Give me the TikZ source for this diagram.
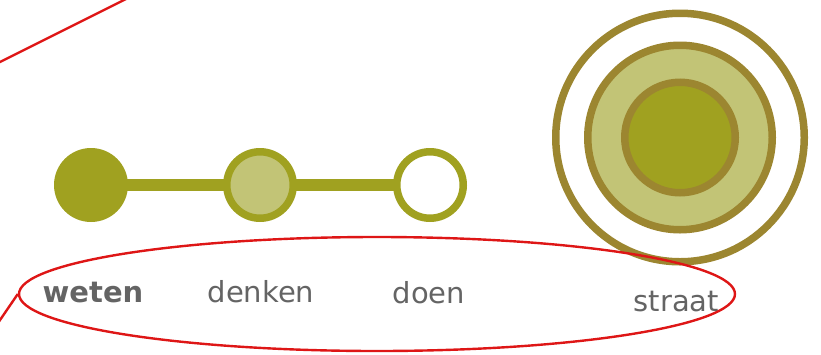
\documentclass[tikz,border=0pt]{standalone}
\usepackage{fontspec}
\setmainfont{DejaVu Sans}
\usetikzlibrary{backgrounds,shapes.geometric}
\definecolor{olive}{RGB}{160,161,32}
\definecolor{lightolive}{RGB}{194,196,118}
\definecolor{ringbrown}{RGB}{156,134,48}
\definecolor{txtgray}{RGB}{100,100,100}
\definecolor{redline}{RGB}{222,22,22}
\begin{document}
\begin{tikzpicture}[x=1pt,y=-1pt,
  dot/.style={circle,inner sep=0pt,minimum size=66.5pt,line width=7.5pt,draw=olive},
  ring/.style={circle,inner sep=0pt,line width=7.5pt,draw=ringbrown},
  lbl/.style={anchor=base west,inner sep=0pt,text=txtgray,font=\fontsize{29}{34}\selectfont},
  redpen/.style={draw=redline,line width=2.4pt}]
\useasboundingbox (0,0) rectangle (821,354);
% step dots
\node[dot,fill=olive,minimum size=74pt,line width=0pt,draw=none] (weten) at (91,185) {};
\node[dot,fill=lightolive] (denken) at (260,185) {};
\node[dot,fill=white] (doen) at (430,185) {};
\begin{pgfonlayer}{background}
\draw[olive,line width=12.5pt] (weten.center) -- (doen.center);
\end{pgfonlayer}
% target
\node[ring,fill=white,minimum size=248.5pt] (outer) at (680,137.5) {};
\node[ring,fill=lightolive,minimum size=184.5pt] (middle) at (680,137.5) {};
\node[ring,fill=olive,minimum size=110.5pt] (inner) at (680,137.5) {};
% labels
\node[lbl,font=\fontsize{29}{34}\selectfont\bfseries] (tweten) at (42.5,302) {weten};
\node[lbl] (tdenken) at (207.5,302) {denken};
\node[lbl] (tdoen) at (392.5,303) {doen};
\node[lbl] (tstraat) at (633.5,311) {straat};
% red annotations
\node[redpen,ellipse,inner sep=0pt,minimum width=716pt,minimum height=114pt] (oval) at (377,294) {};
\coordinate (lt1) at (-2,63);
\coordinate (lt2) at (126,-1);
\draw[redpen] (lt1) -- (lt2);
\coordinate (lb1) at (-1,321.5);
\draw[redpen] (lb1) -- (oval.west);
\end{tikzpicture}
\end{document}
